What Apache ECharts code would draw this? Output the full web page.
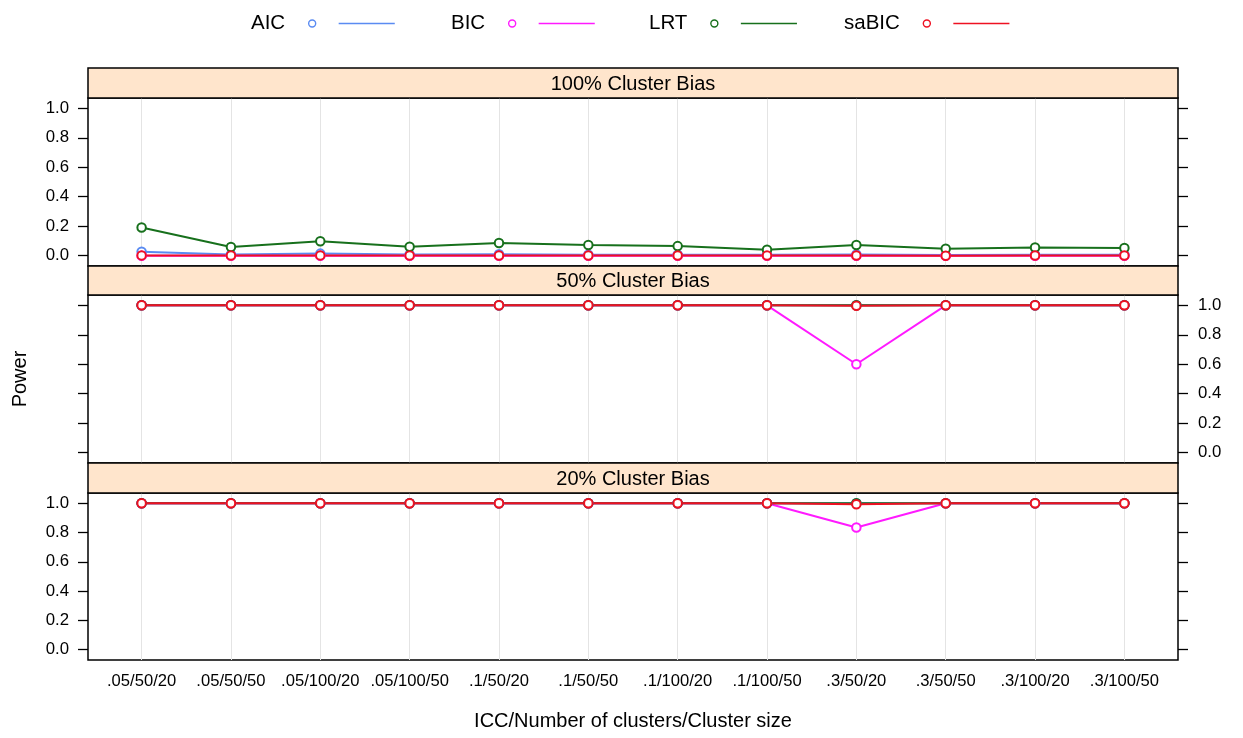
<!DOCTYPE html>
<html>
<head>
<meta charset="utf-8">
<script src="https://cdn.jsdelivr.net/npm/echarts@6/dist/echarts.min.js"></script>
<style>
  html, body { margin: 0; padding: 0; background: #ffffff; }
  #chart { width: 1243px; height: 738px; }
</style>
</head>
<body>
<div id="chart"></div>
<script>
// Design conditions: ICC / number of clusters / cluster size
const categories = ['.05/50/20', '.05/50/50', '.05/100/20', '.05/100/50', '.1/50/20', '.1/50/50',
                    '.1/100/20', '.1/100/50', '.3/50/20', '.3/50/50', '.3/100/20', '.3/100/50'];
const yTicks = [0, 0.2, 0.4, 0.6, 0.8, 1.0];
const methods = ['AIC', 'BIC', 'LRT', 'saBIC'];
const panelTitles = ['100% Cluster Bias', '50% Cluster Bias', '20% Cluster Bias'];

// Power, 100% cluster bias
const bias100AIC   = [0.027, 0.008, 0.014, 0.008, 0.010, 0.007, 0.007, 0.006, 0.008, 0.004, 0.006, 0.006];
const bias100BIC   = [0, 0, 0, 0, 0, 0, 0, 0, 0, 0, 0, 0];
const bias100LRT   = [0.191, 0.059, 0.098, 0.061, 0.086, 0.073, 0.065, 0.040, 0.072, 0.047, 0.056, 0.052];
const bias100saBIC = [0.002, 0.001, 0.002, 0.001, 0.001, 0.001, 0.001, 0.001, 0.001, 0.000, 0.001, 0.001];

// Power, 50% cluster bias
const bias50AIC   = [1, 1, 1, 1, 1, 1, 1, 1, 1, 1, 1, 1];
const bias50BIC   = [1, 1, 1, 1, 1, 1, 1, 1, 0.60, 1, 1, 1];
const bias50LRT   = [1, 1, 1, 1, 1, 1, 1, 1, 1, 1, 1, 1];
const bias50saBIC = [1, 1, 1, 1, 1, 1, 1, 1, 0.997, 1, 1, 1];

// Power, 20% cluster bias
const bias20AIC   = [1, 1, 1, 1, 1, 1, 1, 1, 1, 1, 1, 1];
const bias20BIC   = [1, 1, 1, 1, 1, 1, 1, 1, 0.835, 1, 1, 1];
const bias20LRT   = [1, 1, 1, 1, 1, 1, 1, 1, 1, 1, 1, 1];
const bias20saBIC = [1, 1, 1, 1, 1, 1, 1, 1, 0.993, 1, 1, 1];

const panelValues = [
  [bias100AIC, bias100BIC, bias100LRT, bias100saBIC],
  [bias50AIC, bias50BIC, bias50LRT, bias50saBIC],
  [bias20AIC, bias20BIC, bias20LRT, bias20saBIC]
];

const colors = { AIC: '#5a8bf2', BIC: '#ff1aff', LRT: '#17701c', saBIC: '#ee1122' };
const FONT = '"Liberation Sans", Arial, Helvetica, sans-serif';

// Panel geometry (strip header + plotting region)
const plotLeft = 88, plotRight = 1178;
const panels = [
  { stripTop: 68,  plotTop: 98,  plotHeight: 168, labelSide: 'left'  },
  { stripTop: 266, plotTop: 295, plotHeight: 168, labelSide: 'right' },
  { stripTop: 463, plotTop: 493, plotHeight: 167, labelSide: 'left'  }
];

const xPositions = categories.map((c, i) => i + 1);

const grids = [], xAxes = [], yAxes = [], series = [], graphics = [];

panels.forEach((p, i) => {
  grids.push({
    left: plotLeft, width: plotRight - plotLeft, top: p.plotTop, height: p.plotHeight,
    show: true, borderColor: '#000', borderWidth: 1.5, backgroundColor: 'transparent'
  });

  const isBottom = i === panels.length - 1;
  xAxes.push({
    type: 'value', gridIndex: i, min: 0.4, max: 12.6,
    axisLine: { show: false },
    axisTick: { show: false, customValues: xPositions },
    axisLabel: {
      show: isBottom, customValues: xPositions, margin: 13,
      formatter: v => categories[Math.round(v) - 1],
      color: '#000', fontSize: 16.6, fontFamily: FONT
    },
    splitLine: { show: true, lineStyle: { color: '#e4e4e4', width: 1 } },
    name: isBottom ? 'ICC/Number of clusters/Cluster size' : '',
    nameLocation: 'middle', nameGap: 51,
    nameTextStyle: { color: '#000', fontSize: 20, fontFamily: FONT }
  });

  ['left', 'right'].forEach(side => {
    const isMiddle = i === 1;
    yAxes.push({
      type: 'value', gridIndex: i, position: side, min: -0.07, max: 1.07,
      axisLine: { show: false },
      axisTick: { show: true, inside: false, length: 10, customValues: yTicks,
                  lineStyle: { color: '#000', width: 1.3 } },
      axisLabel: {
        show: p.labelSide === side, customValues: yTicks, margin: side === 'left' ? 19 : 20,
        formatter: v => v.toFixed(1), color: '#000', fontSize: 16.8, fontFamily: FONT
      },
      splitLine: { show: false },
      name: (isMiddle && side === 'left') ? 'Power' : '',
      nameLocation: 'middle', nameRotate: 90, nameGap: 58,
      nameTextStyle: { color: '#000', fontSize: 20, fontFamily: FONT }
    });
  });

  methods.forEach((m, k) => {
    series.push({
      name: m, type: 'line', xAxisIndex: i, yAxisIndex: i * 2,
      data: panelValues[i][k].map((v, j) => [xPositions[j], v]),
      symbol: 'emptyCircle', symbolSize: 8.5, showSymbol: true,
      itemStyle: { color: colors[m], borderColor: colors[m], borderWidth: 1.7 },
      lineStyle: { color: colors[m], width: 2 },
      emphasis: { disabled: true },
      animation: false
    });
  });

  // strip header
  graphics.push({
    type: 'rect', silent: true, z: 10,
    shape: { x: plotLeft, y: p.stripTop, width: plotRight - plotLeft, height: p.plotTop - p.stripTop },
    style: { fill: '#ffe5cc', stroke: '#000', lineWidth: 1.5 }
  });
  graphics.push({
    type: 'text', silent: true, z: 11,
    x: (plotLeft + plotRight) / 2, y: (p.stripTop + p.plotTop) / 2 + 1,
    style: { text: panelTitles[i], fill: '#000', font: '20px ' + FONT, align: 'center', verticalAlign: 'middle' }
  });
});

// Key: label, open circle, then line segment
const keyIcon = 'path://M0 3.5M18.5 3.5A3.5 3.5 0 1 1 25.5 3.5A3.5 3.5 0 1 1 18.5 3.5M48.5 3.5L104.6 3.5';
const keyLeft = { AIC: 251, BIC: 451, LRT: 649, saBIC: 844 };
const legends = methods.map(m => ({
  left: keyLeft[m], top: 13, padding: 0, align: 'right', orient: 'horizontal',
  itemWidth: 104.6, itemHeight: 7, selectedMode: false,
  data: [{ name: m, icon: keyIcon,
           itemStyle: { color: 'none', borderColor: colors[m], borderWidth: 1.4 } }],
  textStyle: { color: '#000', fontSize: 20.5, fontFamily: FONT }
}));

const chart = echarts.init(document.getElementById('chart'), null, { renderer: 'canvas' });
chart.setOption({
  backgroundColor: '#ffffff',
  animation: false,
  legend: legends,
  grid: grids,
  xAxis: xAxes,
  yAxis: yAxes,
  series: series,
  graphic: graphics
});
</script>
</body>
</html>
